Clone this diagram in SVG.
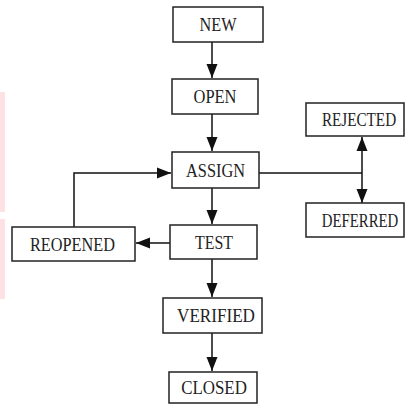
<svg xmlns="http://www.w3.org/2000/svg" width="407" height="407" viewBox="0 0 407 407">
  <style>
    .box { fill: #ffffff; stroke: #222222; stroke-width: 1.5; }
    .lbl { font-family: "Liberation Serif", "Times New Roman", serif; font-size: 19px; fill: #222222; text-anchor: middle; }
    .edge { fill: none; stroke: #111111; stroke-width: 1.5; }
  </style>
  <defs>
    <marker id="arrow" viewBox="0 0 10 10" refX="10" refY="5" markerWidth="10" markerHeight="10" markerUnits="userSpaceOnUse" orient="auto" overflow="visible">
      <path d="M -4 -0.5 L 10 5 L -4 10.5 Z" fill="#111111"/>
    </marker>
  </defs>
  <rect width="407" height="407" fill="#ffffff"/>
  <!-- pale side strip -->
  <rect x="0" y="92" width="5" height="120" fill="#fde1e4"/>
  <rect x="0" y="219" width="5" height="80" fill="#fde1e4"/>

  <g id="connectors">
    <line class="edge" x1="212" y1="42" x2="212" y2="78" marker-end="url(#arrow)"/>
    <line class="edge" x1="212" y1="114" x2="212" y2="151" marker-end="url(#arrow)"/>
    <line class="edge" x1="212" y1="188" x2="212" y2="224" marker-end="url(#arrow)"/>
    <line class="edge" x1="170" y1="243" x2="136" y2="243" marker-end="url(#arrow)"/>
    <polyline class="edge" points="74,227 74,173 171,173" marker-end="url(#arrow)"/>
    <line class="edge" x1="212" y1="259" x2="212" y2="297" marker-end="url(#arrow)"/>
    <line class="edge" x1="212" y1="333" x2="212" y2="371" marker-end="url(#arrow)"/>
    <line class="edge" x1="259" y1="173" x2="362" y2="173"/>
    <line class="edge" x1="362" y1="173" x2="362" y2="137" marker-end="url(#arrow)"/>
    <line class="edge" x1="362" y1="173" x2="362" y2="203" marker-end="url(#arrow)"/>
  </g>

  <!-- labels are set in a horizontally condensed serif -->
  <g id="new">
    <rect class="box" x="173" y="7" width="90" height="35"/>
    <text class="lbl" transform="translate(218 31) scale(0.855 1)">NEW</text>
  </g>
  <g id="open">
    <rect class="box" x="172" y="79" width="86" height="35"/>
    <text class="lbl" transform="translate(215 103) scale(0.867 1)">OPEN</text>
  </g>
  <g id="assign">
    <rect class="box" x="172" y="152" width="87" height="36"/>
    <text class="lbl" transform="translate(215.5 176.5) scale(0.86 1)">ASSIGN</text>
  </g>
  <g id="test">
    <rect class="box" x="170" y="225" width="87" height="34"/>
    <text class="lbl" transform="translate(214 248.5) scale(0.837 1)">TEST</text>
  </g>
  <g id="reopened">
    <rect class="box" x="12" y="227" width="123" height="34"/>
    <text class="lbl" transform="translate(72.5 250.5) scale(0.857 1)">REOPENED</text>
  </g>
  <g id="rejected">
    <rect class="box" x="306" y="103" width="98" height="33"/>
    <text class="lbl" transform="translate(359 126) scale(0.8 1)">REJECTED</text>
  </g>
  <g id="deferred">
    <rect class="box" x="306" y="203" width="98" height="34"/>
    <text class="lbl" transform="translate(360 226.5) scale(0.78 1)">DEFERRED</text>
  </g>
  <g id="verified">
    <rect class="box" x="163" y="298" width="99" height="35"/>
    <text class="lbl" transform="translate(216 322) scale(0.9 1)">VERIFIED</text>
  </g>
  <g id="closed">
    <rect class="box" x="169" y="372" width="88" height="31"/>
    <text class="lbl" transform="translate(214 394) scale(0.89 1)">CLOSED</text>
  </g>
</svg>
